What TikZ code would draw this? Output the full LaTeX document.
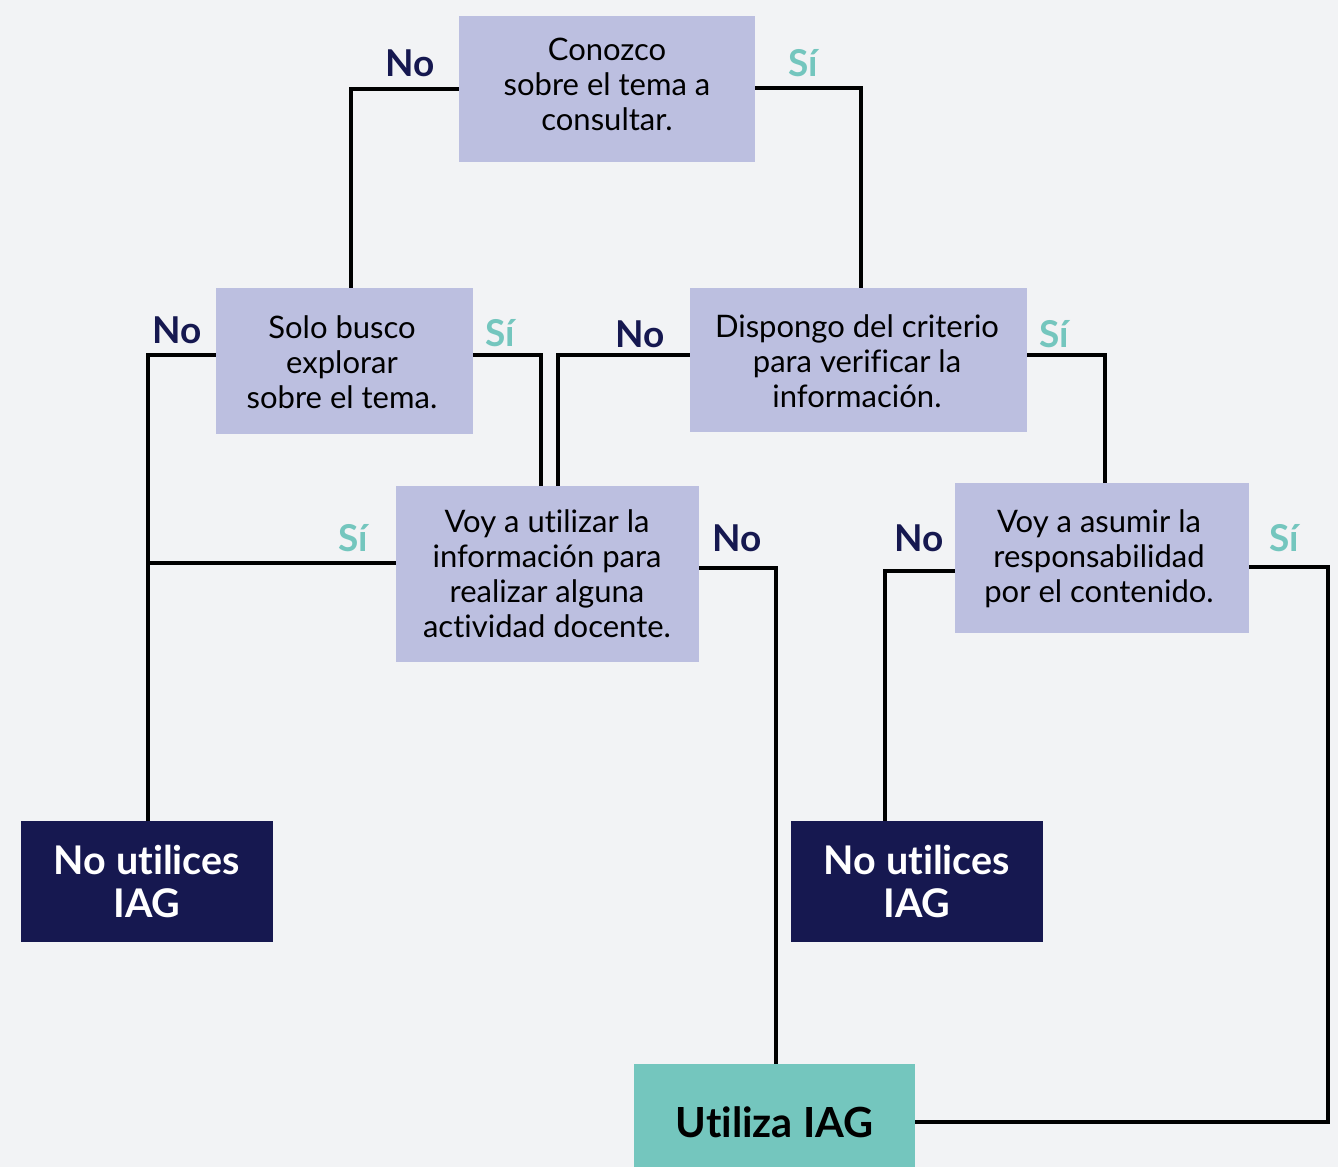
\documentclass[tikz,border=0pt]{standalone}
\usepackage{fontspec}
\setmainfont[Ligatures=NoCommon]{Lato}
\definecolor{bg}{HTML}{F2F3F5}
\definecolor{boxc}{HTML}{BCBFE0}
\definecolor{navy}{HTML}{161850}
\definecolor{teal}{HTML}{74C6BE}
\begin{document}
\begin{tikzpicture}[x=1pt,y=-1pt,
  q/.style={fill=boxc,inner sep=0,align=center,font=\fontsize{31}{35}\selectfont},
  endno/.style={fill=navy,text=white,inner sep=0,align=center,font=\fontsize{39.5}{43}\selectfont\bfseries},
  endyes/.style={fill=teal,text=black,inner sep=0,align=center,font=\fontsize{41.5}{46}\selectfont\bfseries},
  conn/.style={line width=4pt,draw=black},
  nolab/.style={text=navy,font=\fontsize{37}{40}\selectfont\bfseries,inner sep=0},
  silab/.style={text=teal,font=\fontsize{37}{40}\selectfont\bfseries,inner sep=0}]
\fill[bg] (0,0) rectangle (1338,1167);
\useasboundingbox (0,0) rectangle (1338,1167);
\node[q,minimum width=296pt,minimum height=146pt] (A) at (607,89) {};
\node[q,minimum width=257pt,minimum height=146pt] (B) at (344.5,361) {};
\node[q,minimum width=337pt,minimum height=144pt] (C) at (858.5,360) {};
\node[q,minimum width=303pt,minimum height=176pt] (D) at (547.5,574) {};
\node[q,minimum width=294pt,minimum height=150pt] (E) at (1102,558) {};
\node[endno,minimum width=252pt,minimum height=121pt] (F) at (147,881.5) {No utilices\\IAG};
\node[endno,minimum width=252pt,minimum height=121pt] (G) at (917,881.5) {No utilices\\IAG};
\node[endyes,minimum width=281pt,minimum height=103pt] (H) at (774.5,1115.5) {};
\node[endyes,fill=none] (Ht) at (774.5,1122) {Utiliza IAG};
\node[q,fill=none] (At) at (607,84) {Conozco\\sobre el tema a\\consultar.};
\node[q,fill=none] (Bt) at (342,362) {Solo busco\\explorar\\sobre el tema.};
\node[q,fill=none] (Ct) at (857,361) {Dispongo del criterio\\para verificar la\\información.};
\node[q,fill=none] (Dt) at (547,574) {Voy a utilizar la\\información para\\realizar alguna\\actividad docente.};
\node[q,fill=none] (Et) at (1099,559) {Voy a asumir la\\responsabilidad\\por el contenido.};
\draw[conn] (A.west |- 0,89) -| (B.north -| 351,0);
\draw[conn] (A.east |- 0,88) -| (C.north -| 861,0);
\draw[conn] (B.west |- 0,355) -| (F.north -| 148,0);
\draw[conn] (B.east |- 0,355) -| (D.north -| 541,0);
\draw[conn] (C.west |- 0,355) -| (D.north -| 558,0);
\draw[conn] (C.east |- 0,355) -| (E.north -| 1105,0);
\draw[conn] (D.west |- 0,563) -- (146,563);
\draw[conn] (D.east |- 0,568) -| (H.north -| 776,0);
\draw[conn] (E.west |- 0,571) -| (G.north -| 885,0);
\draw[conn] (E.east |- 0,567) -| (1328,1122) -- (H.east |- 0,1122);
\node[nolab] (l1) at (410,63) {No};
\node[silab] (l2) at (803,63) {Sí};
\node[nolab] (l3) at (177,330) {No};
\node[silab] (l4) at (500,333) {Sí};
\node[nolab] (l5) at (640,334) {No};
\node[silab] (l6) at (1054,334) {Sí};
\node[silab] (l7) at (353,538) {Sí};
\node[nolab] (l8) at (737,538) {No};
\node[nolab] (l9) at (919,538) {No};
\node[silab] (l10) at (1284,538) {Sí};
\end{tikzpicture}
\end{document}
